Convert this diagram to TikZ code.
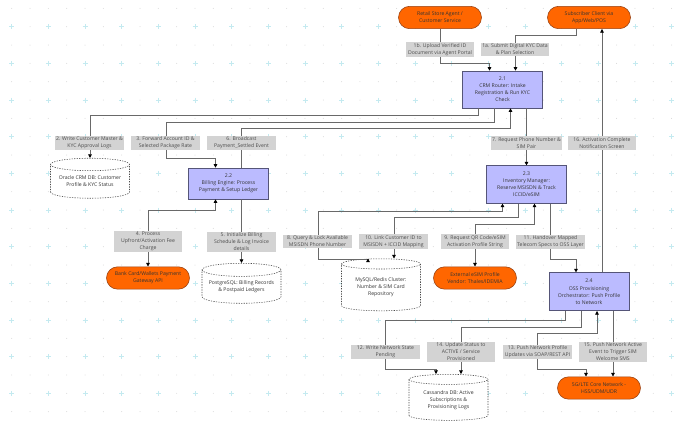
\documentclass[tikz,border=0pt]{standalone}
\usepackage{fontspec}
\setmainfont{Open Sans}
\usetikzlibrary{arrows.meta, calc, shapes.geometric}
\definecolor{actorfill}{RGB}{255,102,0}
\definecolor{actordraw}{RGB}{150,65,20}
\definecolor{procfill}{RGB}{187,187,255}
\definecolor{procdraw}{RGB}{85,85,120}
\definecolor{lblfill}{RGB}{211,211,211}
\definecolor{wiregray}{RGB}{105,105,105}
\definecolor{gridcross}{RGB}{196,234,240}
\definecolor{griddot}{RGB}{212,212,212}

\begin{document}
\begin{tikzpicture}[
    x=0.025cm, y=-0.025cm,
    >={Triangle[length=2.6pt, width=2.6pt, color=black]},
    every node/.style={font=\fontsize{3.65}{5}\selectfont, align=center, text=black!80},
    actor/.style={draw=actordraw, fill=actorfill, rounded corners=0.28cm,
                  minimum width=2.075cm, minimum height=0.56cm, inner sep=0pt},
    proc/.style={draw=procdraw, fill=procfill, minimum width=2.01cm, inner sep=0pt},
    store/.style={cylinder, shape border rotate=90, aspect=0.2, draw=black!70,
                  dash pattern=on 0.9pt off 0.9pt, fill=white,
                  minimum width=1.975cm, inner sep=0pt},
    lbl/.style={fill=lblfill, minimum width=1.72cm, inner xsep=1pt, inner ysep=0.8pt,
                text=black!70},
    wire/.style={draw=wiregray, line width=0.55pt, ->},
    sync/.style={wire, <->}
  ]
  \useasboundingbox (0,0) rectangle (680,426);

  % Background grid
  \foreach \gx in {0,...,36} \foreach \gy in {0,...,22}
    \fill[griddot] (11.7+18.33*\gx, 8.4+18.33*\gy) circle (0.35pt);
  \foreach \gx in {0,...,18} \foreach \gy in {0,...,10}
    \draw[gridcross, line width=0.5pt]
      (11.7+36.67*\gx-2.5, 26.7+36.67*\gy) -- ++(5,0)
      (11.7+36.67*\gx, 26.7+36.67*\gy-2.5) -- ++(0,5);

  % Channels
  \node[actor] (retail) at (440, 17.5) {Retail Store Agent /\\Customer Service};
  \node[actor] (subscriber) at (589, 17.5) {Subscriber Client via\\App/Web/POS};

  % Services
  \node[proc, minimum height=0.925cm] (crm) at (502.5, 89.5)
    {2.1\\CRM Router: Intake\\Registration \& Run KYC\\Check};
  \node[proc, minimum height=0.775cm] (billing) at (228.5, 183.5)
    {2.2\\Billing Engine: Process\\Payment \& Setup Ledger};
  \node[proc, minimum height=0.94cm] (inventory) at (526.5, 184.5)
    {2.3\\Inventory Manager:\\Reserve MSISDN \& Track\\ICCID/eSIM};
  \node[proc, minimum height=0.95cm] (oss) at (589, 291.7)
    {2.4\\OSS Provisioning\\Orchestrator: Push Profile\\to Network};

  % Data stores
  \node[store, minimum height=1.0cm] (oracle) at (90, 181.5)
    {Oracle CRM DB: Customer\\Profile \& KYC Status};
  \node[store, minimum height=1.0cm] (postgres) at (241.5, 286.7)
    {PostgreSQL: Billing Records\\\& Postpaid Ledgers};
  \node[store, minimum height=1.3cm] (mysql) at (381, 287.5)
    {MySQL/Redis Cluster:\\Number \& SIM Card\\Repository};
  \node[store, minimum height=1.15cm] (cassandra) at (448.5, 400)
    {Cassandra DB: Active\\Subscriptions \&\\Provisioning Logs};

  % External systems
  \node[actor] (bank) at (148, 278) {Bank Card/Wallets Payment\\Gateway API};
  \node[actor] (esim) at (475, 278) {External eSIM Profile\\Vendor: Thales/IDEMIA};
  \node[actor] (core) at (599, 388) {5G/LTE Core Network -\\HSS/UDM/UDR};

  % Intake
  \draw[wire] (retail.south) -- ++(0,34) -| ($(crm.north)+(-13,0)$);
  \draw[wire] ($(subscriber.south)+(-13,0)$) -- ++(0,6) -| ($(crm.north)+(13,0)$);

  % CRM fan-out
  \draw[wire] ($(crm.south)+(-24,0)$) -- ++(0,7) -| (oracle.north);
  \draw[wire] ($(crm.south)+(-8,0)$) -- ++(0,14.5) -| ++(-328.5,35.5)
    -| ($(billing.north)+(-13,0)$);
  \draw[wire] ($(billing.north)+(13,0)$) -- ++(0,-39) -| ($(crm.south)+(8,0)$);
  \draw[wire] ($(crm.south)+(24,0)$) -- (inventory.north);

  % Billing
  \draw[sync] ($(billing.south)+(-13,0)$) -- ++(0,11.5) -| (bank.north);
  \draw[wire] ($(billing.south)+(13,0)$) -- (postgres.north);

  % Inventory
  \draw[sync] ($(inventory.south)+(-24,0)$) -- ++(0,8) -| ++(-184.5,48)
    -| ($(mysql.north)+(-13,0)$);
  \draw[wire] ($(inventory.south)+(-8,0)$) -- ++(0,14) -| ($(mysql.north)+(13,0)$);
  \draw[sync] ($(inventory.south)+(8,0)$) -- ++(0,21) -| (esim.north);
  \draw[wire] ($(inventory.south)+(24,0)$) -- ++(0,56) -| ($(oss.north)+(-13,0)$);

  % Provisioning
  \draw[wire] ($(oss.south)+(-24,0)$) -- ++(0,9.5) -| ++(-179.5,49)
    -| ($(cassandra.north)+(-12.5,0)$);
  \draw[wire] ($(oss.south)+(-8,0)$) -- ++(0,16) -| ($(cassandra.north)+(12.5,0)$);
  \draw[sync] ($(oss.south)+(8,0)$) -- ++(0,22.5) -| ++(-59.5,36)
    -| ($(core.north)+(-13,0)$);
  \draw[wire] ($(oss.south)+(24,0)$) -- ($(core.north)+(14,0)$);
  \draw[wire] ($(oss.north)+(13,0)$) -- ($(subscriber.south)+(13,0)$);

  % Flow labels
  \node[lbl] (l1b) at (440, 49.5) {1b. Upload Verified ID\\Document via Agent Portal};
  \node[lbl] (l1a) at (515, 49.5) {1a. Submit Digital KYC Data\\\& Plan Selection};
  \node[lbl] (l2) at (89.5, 143) {2. Write Customer Master \&\\KYC Approval Logs};
  \node[lbl] (l3) at (165.5, 143) {3. Forward Account ID \&\\Selected Package Rate};
  \node[lbl] (l6) at (241.5, 143) {6. Broadcast\\Payment\_Settled Event};
  \node[lbl] (l7) at (526.5, 143) {7. Request Phone Number \&\\SIM Pair};
  \node[lbl] (l16) at (602, 143) {16. Activation Complete\\Notification Screen};
  \node[lbl] (l4) at (148, 241.7) {4. Process\\Upfront/Activation Fee\\Charge};
  \node[lbl] (l5) at (241.5, 241.7) {5. Initialize Billing\\Schedule \& Log Invoice\\details};
  \node[lbl] (l8) at (317.5, 241.5) {8. Query \& Lock Available\\MSISDN Phone Number};
  \node[lbl] (l10) at (393.5, 241.5) {10. Link Customer ID to\\MSISDN + ICCID Mapping};
  \node[lbl] (l9) at (475, 241.5) {9. Request QR Code/eSIM\\Activation Profile String};
  \node[lbl] (l11) at (550.5, 242) {11. Handover Mapped\\Telecom Specs to OSS Layer};
  \node[lbl] (l12) at (385.5, 352) {12. Write Network State\\Pending};
  \node[lbl] (l14) at (461, 351.7) {14. Update Status to\\ACTIVE / Service\\Provisioned};
  \node[lbl] (l13) at (537.5, 352) {13. Push Network Profile\\Updates via SOAP/REST API};
  \node[lbl] (l15) at (613, 351.7) {15. Push Network Active\\Event to Trigger SIM\\Welcome SMS};
\end{tikzpicture}
\end{document}
